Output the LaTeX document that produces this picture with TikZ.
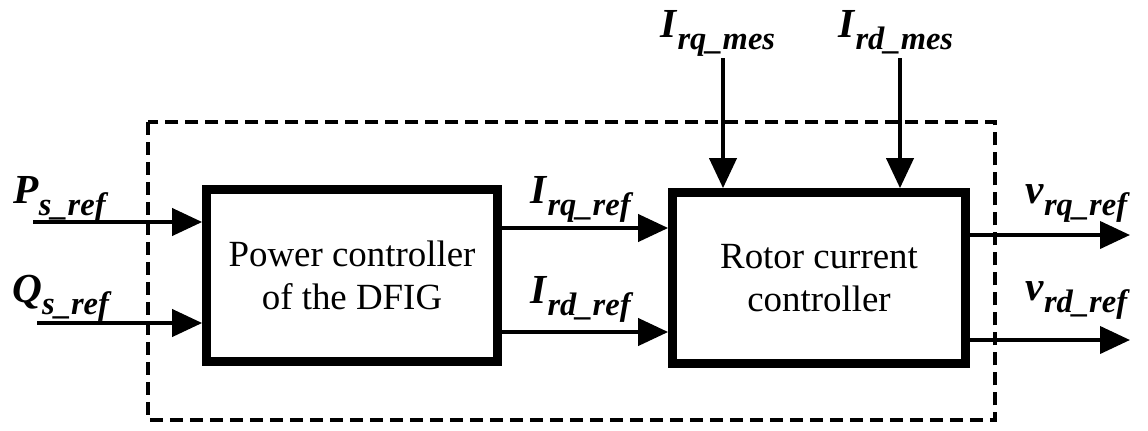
\documentclass[tikz,border=0pt]{standalone}
\usepackage{fontspec}
\setmainfont{Liberation Serif}
\usetikzlibrary{positioning,arrows.meta}

% signal name with a lowered subscript
\newcommand{\sig}[2]{\textbf{\textit{#1}}\raisebox{-7pt}{\fontsize{18.5}{18.5}\selectfont\textbf{\textit{#2}}}}

\begin{document}
\begin{tikzpicture}[x=0.02cm,y=-0.02cm,
    blk/.style={draw, line width=5pt, minimum width=5.82cm, minimum height=3.44cm,
                align=center, inner sep=0pt, font=\fontsize{21}{24.5}\selectfont},
    flow/.style={line width=2.3pt, -{Triangle[length=0.6cm,width=0.54cm]}},
    lbl/.style={anchor=base west, inner sep=0pt, font=\fontsize{23.5}{23.5}\selectfont}]
    \useasboundingbox (0,0) rectangle (1148,430);

    % dashed frame round both controllers
    \draw[line width=2.3pt, dash pattern=on 0.26cm off 0.14cm] (148,122) rectangle (995,420);

    % the two blocks
    \node[blk] (pwr) at (352,275.5) {Power controller\\of the DFIG};
    \node[blk, minimum width=5.86cm, minimum height=3.42cm] (rcc) at (819,278) {Rotor current\\controller};

    % free ends of the signals
    \coordinate (ps) at (33,222);
    \coordinate (qs) at (37,323);
    \coordinate (vrq) at (1130,235);
    \coordinate (vrd) at (1130,340);
    \coordinate (irqm) at (723,58);
    \coordinate (irdm) at (900,58);

    % inputs of the power controller
    \draw[flow] (ps) -- (ps -| pwr.west);
    \draw[flow] (qs) -- (qs -| pwr.west);

    % references passed on to the current controller
    \foreach \y in {228,332} {
      \draw[flow] (pwr.east |- 0,\y) -- (rcc.west |- 0,\y);
    };

    % measured currents from above
    \draw[flow] (irqm) -- (irqm |- rcc.north);
    \draw[flow] (irdm) -- (irdm |- rcc.north);

    % rotor voltage references
    \draw[flow] (rcc.east |- vrq) -- (vrq);
    \draw[flow] (rcc.east |- vrd) -- (vrd);

    % signal names
    \node[lbl] (lps) at (13,203) {\sig{P}{s\_ref}};
    \node[lbl] (lqs) at (12,302) {\sig{Q}{s\_ref}};
    \node[lbl] (lirq) at (530,203) {\sig{I}{rq\_ref}};
    \node[lbl] (lird) at (530,303) {\sig{I}{rd\_ref}};
    \node[lbl] (lvrq) at (1025,203) {\sig{v}{rq\_ref}};
    \node[lbl] (lvrd) at (1025,300) {\sig{v}{rd\_ref}};
    \node[lbl] (lirqm) at (660,37) {\sig{I}{rq\_mes}};
    \node[lbl] (lirdm) at (838,37) {\sig{I}{rd\_mes}};
\end{tikzpicture}
\end{document}
